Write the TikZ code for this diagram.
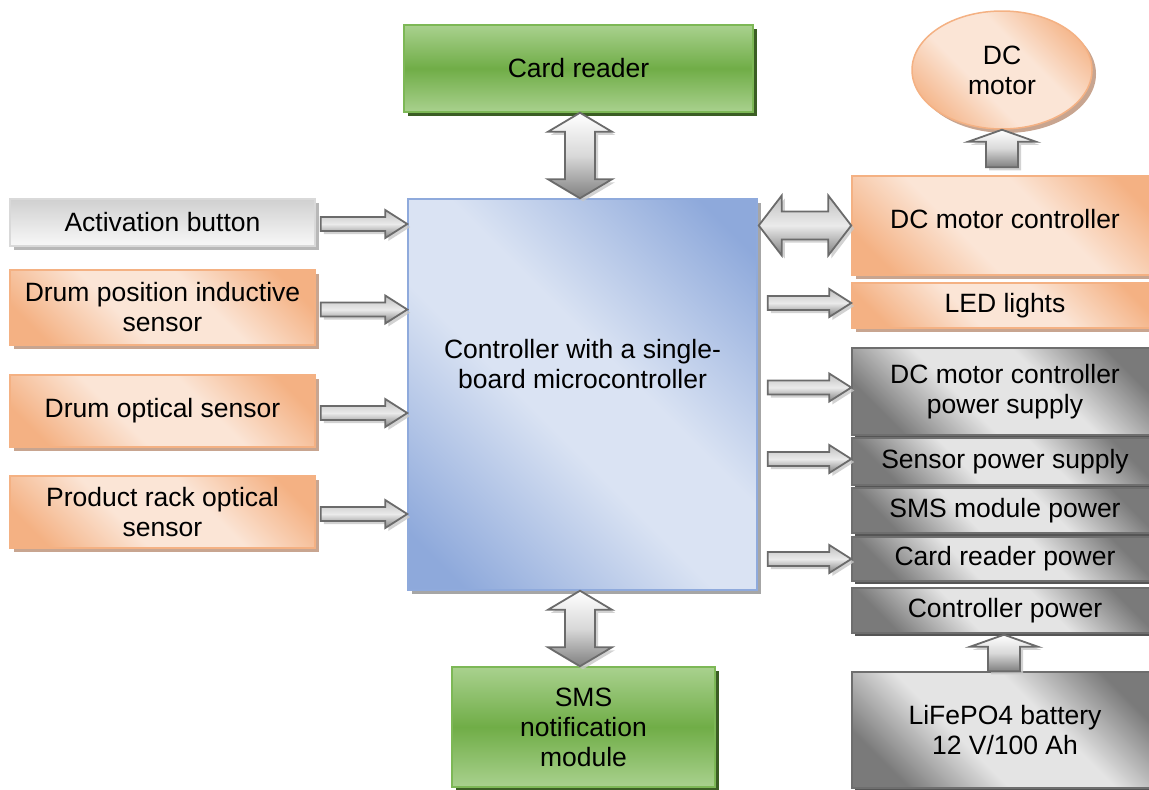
\documentclass[tikz,border=0pt]{standalone}
\usepackage{fontspec}
\setmainfont{Liberation Sans}
\usetikzlibrary{calc,shadows,shapes.geometric}
\definecolor{grnL}{HTML}{A9D18E}
\definecolor{grnD}{HTML}{70AD47}
\definecolor{grnB}{HTML}{7DB856}
\definecolor{grnS}{HTML}{3B5E24}
\definecolor{orgD}{HTML}{F4B183}
\definecolor{orgL}{HTML}{FBE5D6}
\definecolor{orgB}{HTML}{F4B183}
\definecolor{orgS}{HTML}{C8A590}
\definecolor{bluD}{HTML}{8EA9DB}
\definecolor{bluL}{HTML}{DAE3F3}
\definecolor{bluB}{HTML}{8FAADC}
\definecolor{bluS}{HTML}{A6A6A6}
\definecolor{gryD}{HTML}{7A7A7A}
\definecolor{gryL}{HTML}{E4E4E4}
\definecolor{gryB}{HTML}{6E6E6E}
\definecolor{gryS}{HTML}{555555}
\definecolor{actT}{HTML}{D0D0D0}
\definecolor{actBt}{HTML}{F8F8F8}
\definecolor{actB}{HTML}{D9D9D9}
\definecolor{actS}{HTML}{B8B8B8}
\definecolor{arrB}{HTML}{6B6B6B}
\pgfdeclareverticalshading{diagO}{100bp}{color(0bp)=(orgD); color(22bp)=(orgD); color(41bp)=(orgL); color(59bp)=(orgL); color(78bp)=(orgD); color(100bp)=(orgD)}
\pgfdeclareverticalshading{diagG}{100bp}{color(0bp)=(gryD); color(24bp)=(gryD); color(41bp)=(gryL); color(59bp)=(gryL); color(76bp)=(gryD); color(100bp)=(gryD)}
\pgfdeclareverticalshading{diagB}{100bp}{color(0bp)=(bluD); color(20bp)=(bluD); color(44bp)=(bluL); color(56bp)=(bluL); color(80bp)=(bluD); color(100bp)=(bluD)}
\newcommand\bodyfs{\fontsize{26.5}{30}\selectfont}
\newcommand\ArrR[2]{%
 \draw[harr] ($(#1)+(0,-7)$) -- ($(#2)+(-22,-7)$) -- ($(#2)+(-22,-14)$) -- (#2) -- ($(#2)+(-22,14)$) -- ($(#2)+(-22,7)$) -- ($(#1)+(0,7)$) -- cycle;}
\newcommand\ArrLR[2]{%
 \draw[harr] (#1) -- ($(#1)+(23,-30)$) -- ($(#1)+(23,-14)$) -- ($(#2)+(-23,-14)$) -- ($(#2)+(-23,-30)$) -- (#2) -- ($(#2)+(-23,30)$) -- ($(#2)+(-23,14)$) -- ($(#1)+(23,14)$) -- ($(#1)+(23,30)$) -- cycle;}
\newcommand\ArrUD[2]{%
 \draw[varr] (#1) -- ($(#1)+(32,19)$) -- ($(#1)+(15,19)$) -- ($(#2)+(15,-19)$) -- ($(#2)+(32,-19)$) -- (#2) -- ($(#2)+(-32,-19)$) -- ($(#2)+(-15,-19)$) -- ($(#1)+(-15,19)$) -- ($(#1)+(-32,19)$) -- cycle;}
\newcommand\ArrU[2]{%
 \draw[varr] ($(#1)+(-16,0)$) -- ($(#2)+(-16,12)$) -- ($(#2)+(-34,12)$) -- (#2) -- ($(#2)+(34,12)$) -- ($(#2)+(16,12)$) -- ($(#1)+(16,0)$) -- cycle;}
\begin{document}
\begin{tikzpicture}[x=1pt,y=-1pt,
  box/.style={rectangle, line width=1.5pt, inner sep=2pt, align=center, font=\bodyfs, text=black},
  greenbox/.style={box, draw=grnB, top color=grnL, bottom color=grnL, middle color=grnD,
     general shadow={shadow xshift=4pt, shadow yshift=-4pt, fill=grnS}},
  orangebox/.style={box, draw=orgB, shade, shading=diagO, shading angle=-45,
     general shadow={shadow xshift=4pt, shadow yshift=-4pt, fill=orgS}},
  graybox/.style={box, draw=gryB, shade, shading=diagG, shading angle=-45,
     general shadow={shadow xshift=3pt, shadow yshift=-3pt, fill=gryS}},
  bluebox/.style={box, draw=bluB, shade, shading=diagB, shading angle=-45,
     general shadow={shadow xshift=4pt, shadow yshift=-4pt, fill=bluS}},
  actbox/.style={box, draw=actB, top color=actT, bottom color=actBt,
     general shadow={shadow xshift=4pt, shadow yshift=-4pt, fill=actS}},
  leftw/.style={minimum width=305pt},
  rightw/.style={minimum width=306pt},
  arrbase/.style={draw=arrB, line width=1.8pt, line join=miter,
     drop shadow={shadow xshift=3pt, shadow yshift=-3pt, fill=black!22, opacity=0.8}},
  harr/.style={arrbase, top color=black!25, bottom color=black!50, middle color=white!92!black},
  varr/.style={arrbase, top color=white, bottom color=black!50, middle color=black!15}
]
\useasboundingbox (0,0) rectangle (1149,790);

% central blocks
\node[greenbox, minimum width=349pt, minimum height=87pt] (card) at (578.5,68.5) {Card reader};
\node[bluebox, minimum width=349pt, minimum height=391pt] (ctrl) at (582.5,394.5) {};
\node[font=\bodyfs, align=center] (ctrltxt) at ($(ctrl.center)+(0,-30)$) {Controller with a single-\\board microcontroller};
\node[greenbox, minimum width=263pt, minimum height=120pt] (sms) at (583.5,727) {SMS\\notification\\module};

% left inputs
\node[actbox, leftw, minimum height=47pt] (act) at (162.5,222.5) {Activation button};
\node[orangebox, leftw, minimum height=75pt] (dpos) at (162.5,307.5) {Drum position inductive\\sensor};
\node[orangebox, leftw, minimum height=72pt] (dopt) at (162.5,411) {Drum optical sensor};
\node[orangebox, leftw, minimum height=72pt] (prack) at (162.5,512) {Product rack optical\\sensor};

% right outputs
\node[orangebox, ellipse, minimum width=180pt, minimum height=118pt, inner sep=0pt] (motor) at (1002,70) {DC\\motor};
\node[orangebox, rightw, minimum height=99pt, text depth=14pt] (dcmc) at (1005,225.5) {DC motor controller};
\node[orangebox, rightw, minimum height=45pt] (led) at (1005,305.5) {LED lights};
\node[graybox, rightw, minimum height=87pt] (dcps) at (1005,391.5) {DC motor controller\\power supply};
\node[graybox, rightw, minimum height=47pt] (sps) at (1005,461.5) {Sensor power supply};
\node[graybox, rightw, minimum height=45pt] (smsp) at (1005,510.5) {SMS module power};
\node[graybox, rightw, minimum height=44pt] (crp) at (1005,559) {Card reader power};
\node[graybox, rightw, minimum height=45pt] (ctrlp) at (1005,610.5) {Controller power};
\node[graybox, rightw, minimum height=116pt] (batt) at (1005,730) {LiFePO4 battery\\12 V/100 Ah};

% connector end points
\coordinate (c1t) at ($(card.south)+(1.5,0)$);
\coordinate (c1b) at (c1t |- ctrl.north);
\coordinate (c2t) at ($(ctrl.south -| sms.north)+(-3.5,0)$);
\coordinate (c2b) at (c2t |- sms.north);
\coordinate (a1s) at ($(act.east)+(5,1.5)$);
\coordinate (a1e) at (ctrl.west |- a1s);
\coordinate (a2s) at ($(dpos.east)+(5,2)$);
\coordinate (a2e) at (ctrl.west |- a2s);
\coordinate (a3s) at ($(dopt.east)+(5,2)$);
\coordinate (a3e) at (ctrl.west |- a3s);
\coordinate (a4s) at ($(prack.east)+(5,2)$);
\coordinate (a4e) at (ctrl.west |- a4s);
\coordinate (m1s) at ($(ctrl.east |- dcmc.west)+(1,0)$);
\coordinate (m1e) at (dcmc.west);
\coordinate (l1e) at ($(led.west)+(0,-2.5)$);
\coordinate (l1s) at ($(ctrl.east |- l1e)+(10,0)$);
\coordinate (p1e) at ($(dcps.west)+(0,-4)$);
\coordinate (p1s) at ($(ctrl.east |- p1e)+(10,0)$);
\coordinate (p2e) at ($(sps.west)+(0,-2.5)$);
\coordinate (p2s) at ($(ctrl.east |- p2e)+(10,0)$);
\coordinate (p3e) at (crp.west);
\coordinate (p3s) at ($(ctrl.east |- p3e)+(10,0)$);
\coordinate (u1t) at (motor.south);
\coordinate (u1b) at ($(u1t |- dcmc.north)+(0,-8)$);
\coordinate (u2t) at ($(ctrlp.south)+(-1,1)$);
\coordinate (u2b) at (u2t |- batt.north);

% connectors
\ArrUD{c1t}{c1b}
\ArrUD{c2t}{c2b}
\ArrR{a1s}{a1e}
\ArrR{a2s}{a2e}
\ArrR{a3s}{a3e}
\ArrR{a4s}{a4e}
\ArrLR{m1s}{m1e}
\ArrR{l1s}{l1e}
\ArrR{p1s}{p1e}
\ArrR{p2s}{p2e}
\ArrR{p3s}{p3e}
\ArrU{u1b}{u1t}
\ArrU{u2b}{u2t}
\end{tikzpicture}
\end{document}
